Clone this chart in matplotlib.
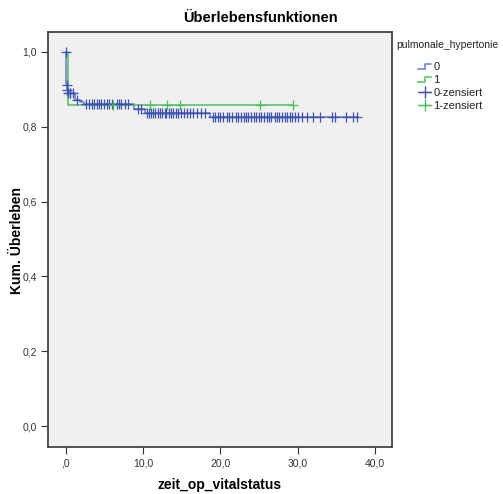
import matplotlib
matplotlib.use("Agg")
import matplotlib.pyplot as plt
from matplotlib.lines import Line2D
from matplotlib.legend_handler import HandlerLine2D
from matplotlib.ticker import FuncFormatter

plt.rcParams['font.family'] = ['Liberation Sans', 'DejaVu Sans']

# Stufen der Überlebenskurven (Zeit, Wert)
t0 = [0.0, 0.05, 0.15, 0.3, 1.2, 1.8, 2.3, 8.8, 10.3, 18.7, 37.8]
s0 = [1.0, 0.912, 0.898, 0.89, 0.872, 0.866, 0.86, 0.847, 0.836, 0.826, 0.826]
t1 = [0.0, 0.35, 29.4]
s1 = [1.0, 0.858, 0.858]

# zensierte Fälle
c0 = [0.0, 0.1, 0.2, 0.3, 0.5, 0.6, 0.9, 1.5, 2.6, 3.0, 3.4, 3.7, 4.0, 4.3, 4.6, 5.0,
      5.3, 5.6, 6.0, 6.6, 6.9, 7.2, 7.6, 8.0, 9.3, 9.7, 10.5, 10.8, 11.0, 11.3, 11.6,
      11.9, 12.2, 12.5, 12.8, 13.0, 13.3, 13.6, 13.9, 14.2, 14.5, 14.9, 15.3, 15.7,
      16.1, 16.5, 17.0, 17.5, 18.0, 19.0, 19.3, 19.7, 20.0, 20.4, 20.8, 21.1, 21.5,
      22.0, 22.3, 22.6, 23.0, 23.3, 23.6, 24.0, 24.3, 24.6, 25.0, 25.3, 25.6, 26.0,
      26.3, 26.6, 27.0, 27.3, 27.6, 28.0, 28.3, 28.6, 29.0, 29.3, 29.6, 30.0, 30.5,
      31.2, 32.0, 32.9, 34.4, 34.8, 36.3, 37.2, 37.7]
c1 = [6.1, 10.9, 13.1, 14.8, 25.1, 29.4]


def stufe(ts, ss, t):
    v = ss[0]
    for a, b in zip(ts, ss):
        if a <= t:
            v = b
    return v


blau_linie = '#6a7bcc'
blau = '#3e52b0'
gruen = '#4cc060'

fig = plt.figure(figsize=(5.03, 4.94), dpi=100)
ax = fig.add_axes([0.0954, 0.095, 0.684, 0.84])
ax.set_facecolor('#f0f0f0')

ax.step(t0, s0, where='post', color=blau_linie, lw=1.1)
ax.step(t1, s1, where='post', color=gruen, lw=1.1)
ax.plot(c0, [stufe(t0, s0, t) for t in c0], ls='none', marker='+', ms=6.5,
        mew=0.9, color=blau)
ax.plot(c1, [stufe(t1, s1, t) for t in c1], ls='none', marker='+', ms=6.5,
        mew=0.9, color=gruen)

ax.set_xlim(-2.3, 42.2)
ax.set_ylim(-0.056, 1.053)
ax.set_xticks([0, 10, 20, 30, 40])
ax.set_yticks([0, 0.2, 0.4, 0.6, 0.8, 1.0])
ax.xaxis.set_major_formatter(FuncFormatter(lambda v, p: ',0' if v == 0 else f'{v:.1f}'.replace('.', ',')))
ax.yaxis.set_major_formatter(FuncFormatter(lambda v, p: f'{v:.1f}'.replace('.', ',')))
ax.tick_params(labelsize=7.5, length=5, width=0.8, colors='#333333', pad=3)
for sp in ax.spines.values():
    sp.set_color('#444444')
    sp.set_linewidth(1.3)

fig.text(220 / 503, 1 - 485 / 494, 'zeit_op_vitalstatus', fontsize=10,
         fontweight='bold', ha='center', va='center')
fig.text(17 / 503, 1 - 240 / 494, 'Kum. Überleben', fontsize=10,
         fontweight='bold', ha='center', va='center', rotation=90)
fig.text(260 / 503, 1 - 18 / 494, 'Überlebensfunktionen', fontsize=10.5,
         fontweight='bold', ha='center', va='center')
fig.text(396 / 503, 1 - 45 / 494, 'pulmonale_hypertonie', fontsize=7.5,
         ha='left', va='center', color='#222222')


class StufenHandler(HandlerLine2D):
    def create_artists(self, legend, orig_handle, xdescent, ydescent, width, height,
                       fontsize, trans):
        x0 = -xdescent
        y0 = -ydescent + height * 0.15
        y1 = -ydescent + height * 0.75
        xs = [x0, x0 + width * 0.55, x0 + width * 0.55, x0 + width]
        ys = [y0, y0, y1, y1]
        ln = Line2D(xs, ys, color=orig_handle.get_color(), lw=1.1)
        ln.set_transform(trans)
        return [ln]


h0 = Line2D([], [], color=blau_linie)
h1 = Line2D([], [], color=gruen)
h2 = Line2D([], [], color=blau, marker='+', ms=8, lw=0.9)
h3 = Line2D([], [], color=gruen, marker='+', ms=8, lw=0.9)
leg = fig.legend([h0, h1, h2, h3], ['0', '1', '0-zensiert', '1-zensiert'],
                 loc='upper left', bbox_to_anchor=(418 / 503, 1 - 62 / 494),
                 frameon=False, fontsize=8, handlelength=1.2, handletextpad=0.2,
                 labelspacing=0.28, borderpad=0.0, borderaxespad=0.0,
                 handler_map={h0: StufenHandler(), h1: StufenHandler()})
for r in leg.get_texts():
    r.set_color('#222222')

fig.savefig('out.png', dpi=100)
